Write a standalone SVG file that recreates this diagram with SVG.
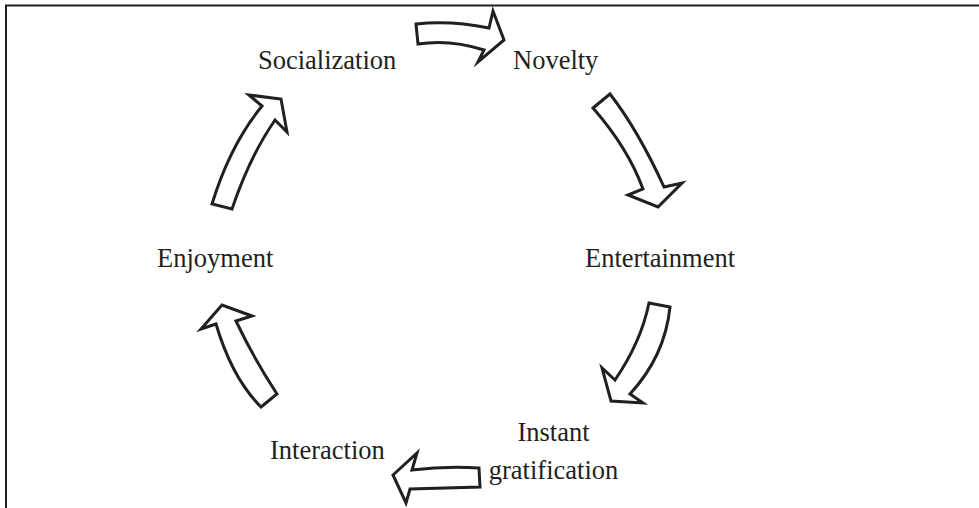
<svg xmlns="http://www.w3.org/2000/svg" width="979" height="508" viewBox="0 0 979 508">
<style>
.lbl{font-family:"Liberation Serif","Times New Roman",serif;font-size:26.5px;fill:#231f20}
.arr{fill:#fff;stroke:#231f20;stroke-width:3;stroke-linejoin:miter;stroke-miterlimit:10}
.frame{stroke:#231f20;stroke-width:2;fill:none}
</style>
<rect width="979" height="508" fill="#fff"/>
<g id="frame">
<path class="frame" d="M6,508 V5.5 H979"/>
</g>
<g id="node-socialization"><text class="lbl" x="258" y="69">Socialization</text></g>
<g id="node-novelty"><text class="lbl" x="513" y="69">Novelty</text></g>
<g id="node-entertainment"><text class="lbl" x="585" y="267">Entertainment</text></g>
<g id="node-instant"><text class="lbl" x="553.5" y="441" text-anchor="middle">Instant</text><text class="lbl" x="553.5" y="479" text-anchor="middle">gratification</text></g>
<g id="node-interaction"><text class="lbl" x="270" y="459">Interaction</text></g>
<g id="node-enjoyment"><text class="lbl" x="157" y="267">Enjoyment</text></g>
<g id="connectors">
<path class="arr" d="M416,24 Q450,20 489,28 L493,11 L504,40 L478,62 L484,50 Q450,39 418,44 Z"/>
<path class="arr" d="M593,108 L610,94 Q638,130 664,187 L682,183 L658,207 L628,195 L643,189 Q628,148 593,108 Z"/>
<path class="arr" d="M649,303 L670,307 Q665,356 630,394 L643,403 L611,401 L602,368 L615,380 Q641,342 649,303 Z"/>
<path class="arr" d="M479,468 Q445,466 412,470 L417,453 L393,475 L406,503 L410,489 Q445,488 480,487 Z"/>
<path class="arr" d="M261,407 L277,394 Q254,359 236,321 L252,316 L222,305 L201,329 L216,324 Q232,378 261,407 Z"/>
<path class="arr" d="M212,204 Q230,145 262,106 L249,95 L281,99 L287,132 L275,120 Q250,156 232,209 Z"/>
</g>
</svg>
